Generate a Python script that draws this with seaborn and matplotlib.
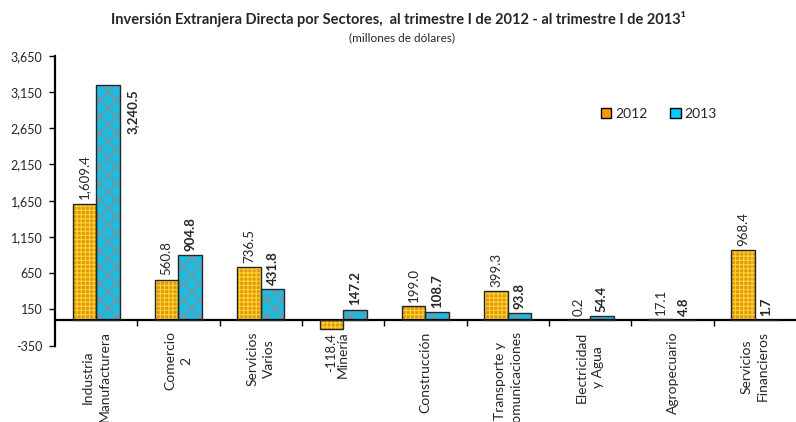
import pandas as pd
import matplotlib.pyplot as plt
import seaborn as sns
from matplotlib.patches import Patch, Rectangle

# Datos (millones de dólares)
sectores = ['Industria\nManufacturera', 'Comercio\n2', 'Servicios\nVarios', 'Minería',
            'Construcción', 'Transporte y\nComunicaciones', 'Electricidad\ny Agua',
            'Agropecuario', 'Servicios\nFinancieros']
valores_2012 = [1609.4, 560.8, 736.5, -118.4, 199.0, 399.3, 0.2, 17.1, 968.4]
valores_2013 = [3240.5, 904.8, 431.8, 147.2, 108.7, 93.8, 54.4, 4.8, 1.7]
anios = ['2012', '2013']
yticks = list(range(-350, 3651, 500))

df = pd.DataFrame({
    'sector': sectores * 2,
    'valor': valores_2012 + valores_2013,
    'anio': [anios[0]] * len(sectores) + [anios[1]] * len(sectores),
})

colores = {'2012': '#FF9900', '2013': '#00CCFF'}
tramas = {'2012': ('++++', '#FFD21F'), '2013': ('xx', '#8C8C8C')}

sns.set_style('ticks')
plt.rcParams['font.family'] = ['Lato', 'DejaVu Sans']
plt.rcParams['hatch.linewidth'] = 0.9

fig = plt.figure(figsize=(7.96, 4.22), dpi=100)
ax = fig.add_axes([0.069, 0.181, 0.931, 0.687])

sns.barplot(data=df, x='sector', y='valor', hue='anio', palette=colores,
            width=0.57, gap=0, ax=ax, linewidth=0, legend=False)

# ejes (antes de las etiquetas: set_position reinicia los ticks)
ax.spines['top'].set_visible(False)
ax.spines['right'].set_visible(False)
ax.spines['bottom'].set_position(('data', 0))
ax.spines['bottom'].set_linewidth(1.6)
ax.spines['left'].set_linewidth(1.6)
ax.spines['bottom'].set_color('black')
ax.spines['left'].set_color('black')

ymax = 3650
for cont, anio in zip(ax.containers, anios):
    hatch, hcol = tramas[anio]
    for p in cont.patches:
        p.set_hatch(hatch)
        p.set_edgecolor(hcol)
        p.set_linewidth(0)
        ax.add_patch(Rectangle(p.get_xy(), p.get_width(), p.get_height(),
                               fill=False, edgecolor='#262626', lw=1.0, zorder=3))
    peso = 'bold' if anio == '2013' else 'normal'
    for p, v in zip(cont.patches, cont.datavalues):
        xc = p.get_x() + p.get_width() / 2
        txt = f'{v:,.1f}'
        if v + 450 > ymax:
            ax.annotate(txt, (p.get_x() + p.get_width(), v), xytext=(5, -3),
                        textcoords='offset points', rotation=90, ha='left', va='top',
                        fontsize=9.5, fontweight=peso)
        elif v >= 0:
            ax.annotate(txt, (xc, v), xytext=(0, 3), textcoords='offset points',
                        rotation=90, ha='center', va='bottom', fontsize=9.5, fontweight=peso)
        else:
            ax.annotate(txt, (xc, v), xytext=(0, -3), textcoords='offset points',
                        rotation=90, ha='center', va='top', fontsize=9.5, fontweight=peso)

ax.set_ylim(-350, 3650)
ax.set_xlim(-0.5, len(sectores) - 0.5)
ax.set_yticks(yticks)
ax.set_yticklabels([f'{t:,}' for t in yticks], fontsize=9)
ax.tick_params(axis='y', length=4, width=1, color='black', pad=5)

ax.set_xticks(range(len(sectores)))
ax.set_xticklabels(sectores, rotation=90, ha='center', va='top', fontsize=10,
                   multialignment='center', linespacing=1.45)
ax.set_xticks([i + 0.5 for i in range(len(sectores) - 1)], minor=True)
ax.tick_params(axis='x', which='major', length=0, pad=8)
ax.tick_params(axis='x', which='minor', length=4, width=1, color='black', direction='out')
ax.set_xlabel('')
ax.set_ylabel('')

handles = [Patch(facecolor=colores[a], edgecolor='black', linewidth=1) for a in anios]
ax.legend(handles, anios, loc='center left', bbox_to_anchor=(0.72, 0.80), ncol=2,
          frameon=False, handlelength=0.75, handleheight=0.75, handletextpad=0.3,
          columnspacing=1.6, fontsize=10)

fig.text(0.5, 0.955, 'Inversión Extranjera Directa por Sectores,  al trimestre I de 2012 - al trimestre I de 2013¹',
         ha='center', va='center', fontsize=10.5, fontweight='bold')
fig.text(0.505, 0.91, '(millones de dólares)', ha='center', va='center', fontsize=8.5)

fig.savefig('out.png', dpi=100)
